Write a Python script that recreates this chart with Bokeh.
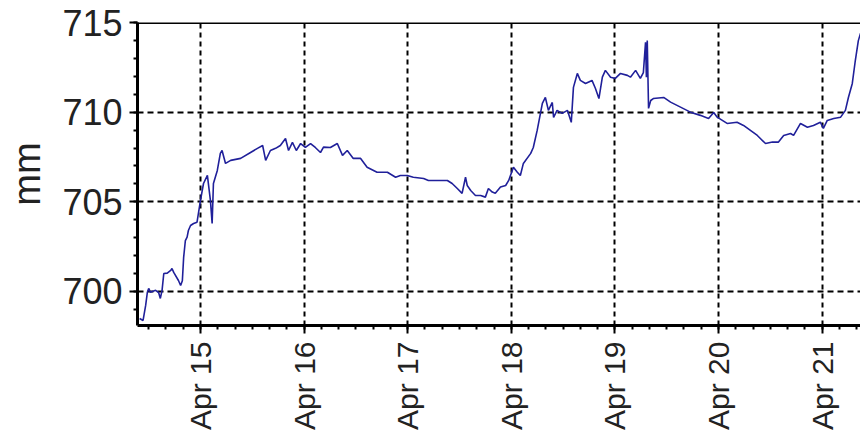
import datetime as dt
import math
import numpy as np
from bokeh.plotting import figure
from bokeh.models import FixedTicker, Span, Range1d
from bokeh.embed import file_html
from bokeh.resources import INLINE

# hours after Apr 14 00:00
hours = [9.9, 10.7, 11.3, 11.7, 12.0, 12.4, 13.6, 14.3, 14.7, 15.1, 15.5, 16.3, 17.1, 17.4,
         17.8, 18.9, 19.4, 19.8, 20.1, 20.5, 20.9, 21.2, 21.7, 22.4, 23.2, 24.0, 24.7, 25.6,
         26.3, 26.7, 27.0, 27.9, 28.6, 29.0, 29.8, 31.0, 33.3, 35.6, 37.2, 38.4, 39.1, 40.2,
         41.4, 42.5, 43.7, 44.4, 45.3, 46.2, 47.2, 48.3, 49.5, 50.6, 51.8, 52.5, 54.1, 55.7,
         56.9, 58.0, 59.4, 61.1, 62.6, 64.9, 67.3, 69.2, 70.3, 71.9, 73.3, 75.7, 76.8, 79.6,
         81.2, 82.3, 83.5, 84.6, 85.4, 85.8, 86.6, 87.7, 88.9, 90.0, 90.7, 91.6, 92.3, 93.5,
         94.7, 95.4, 96.5, 97.4, 98.1, 98.8, 100.5, 101.1, 102.0, 103.2, 103.9, 104.6, 105.5,
         105.8, 106.6, 107.8, 109.0, 109.9, 110.4, 111.3, 112.0, 113.2, 114.7, 115.5, 116.3,
         117.1, 117.8, 119.0, 120.1, 121.3, 122.9, 123.6, 124.8, 125.9, 126.6, 127.1, 127.3,
         127.5, 127.8, 128.3, 128.9, 131.3, 132.9, 135.2, 137.5, 139.8, 141.7, 142.9, 143.7,
         146.0, 148.3, 149.8, 151.4, 153.0, 154.9, 156.5, 157.9, 159.1, 160.7, 161.4, 163.0,
         164.6, 166.0, 167.6, 168.3, 169.2, 170.7, 172.3, 173.4, 174.1, 175.0, 175.7, 176.4,
         176.9, 177.8]
pressure_mm = [698.49, 698.38, 699.22, 699.96, 700.17, 699.96, 700.06, 699.94, 699.61, 700.06,
               701.0, 701.02, 701.17, 701.28, 701.06, 700.61, 700.33, 700.6, 701.9, 702.84,
               703.03, 703.4, 703.68, 703.79, 703.86, 705.08, 706.02, 706.47, 705.08, 703.79,
               706.02, 706.75, 707.7, 707.86, 707.14, 707.31, 707.42, 707.75, 707.98, 708.14,
               707.31, 707.86, 707.98, 708.14, 708.53, 707.86, 708.31, 707.86, 708.25, 708.03,
               708.25, 708.03, 707.75, 708.05, 708.03, 708.25, 707.59, 707.86, 707.42, 707.42,
               706.93, 706.65, 706.65, 706.37, 706.47, 706.47, 706.37, 706.3, 706.19, 706.19,
               706.19, 706.02, 705.74, 705.47, 706.37, 705.91, 705.63, 705.35, 705.35, 705.26,
               705.74, 705.54, 705.47, 705.82, 705.91, 706.19, 706.93, 706.65, 706.47, 707.14,
               707.7, 708.03, 708.98, 710.49, 710.82, 710.1, 710.54, 709.7, 710.1, 709.93,
               710.1, 709.43, 711.38, 712.16, 711.77, 711.6, 711.77, 711.32, 710.76, 711.95,
               712.33, 711.95, 711.88, 712.16, 712.05, 711.95, 712.33, 711.88, 712.21, 713.9,
               711.95, 714.0, 710.21, 710.65, 710.76, 710.82, 710.56, 710.28, 710.0, 709.82,
               709.65, 709.98, 709.72, 709.37, 709.44, 709.26, 708.98, 708.7, 708.25, 708.33,
               708.33, 708.7, 708.81, 708.7, 709.37, 709.16, 709.26, 709.44, 709.09, 709.54,
               709.65, 709.72, 710.1, 710.82, 711.6, 712.88, 713.99, 714.39, 714.8]

tick_days = [15, 16, 17, 18, 19, 20, 21, 22]
tick_labels = ["Apr 15", "Apr 16", "Apr 17", "Apr 18", "Apr 19", "Apr 20", "Apr 21", "Apr 22"]
y_ticks = [700, 705, 710, 715]
y_label = "mm"

base = dt.datetime(2024, 4, 14)
epoch = dt.datetime(1970, 1, 1)


def ms(t):
    return (t - epoch).total_seconds() * 1000.0


times = [base + dt.timedelta(hours=h) for h in hours]

x_start = base + dt.timedelta(hours=9.41)
x_end = base + dt.timedelta(hours=176.9)

FONT = "Liberation Sans"

p = figure(width=860, height=441, x_axis_type="datetime", output_backend="svg",
           toolbar_location=None, x_range=Range1d(x_start, x_end),
           y_range=Range1d(698.1, 715.0),
           min_border_left=137, min_border_right=0, min_border_top=22, min_border_bottom=116)
p.outline_line_color = None
p.background_fill_color = "white"
p.border_fill_color = "white"

p.line(times, pressure_mm, line_color="#20209a", line_width=1.6)

major_x = [ms(dt.datetime(2024, 4, d)) for d in tick_days]
minor_x = [ms(base + dt.timedelta(hours=float(h))) for h in np.arange(8, 24 * 9, 4)]
p.xaxis.ticker = FixedTicker(ticks=major_x, minor_ticks=minor_x)
p.xaxis.major_label_overrides = {m: lab for m, lab in zip(major_x, tick_labels)}
p.xaxis.major_label_orientation = math.pi / 2

p.yaxis.ticker = FixedTicker(ticks=y_ticks, minor_ticks=list(range(698, 716)))
p.yaxis.axis_label = y_label

for ax in (p.xaxis[0], p.yaxis[0]):
    ax.axis_line_width = 3
    ax.axis_line_color = "black"
    ax.major_tick_in = 0
    ax.major_tick_out = 8
    ax.minor_tick_in = 0
    ax.minor_tick_out = 4
    ax.major_tick_line_width = 2
    ax.minor_tick_line_width = 2
    ax.major_tick_line_color = "black"
    ax.minor_tick_line_color = "black"
    ax.major_label_text_font = FONT
    ax.major_label_text_color = "#222222"
    ax.axis_label_text_font = FONT
    ax.axis_label_text_font_style = "normal"
    ax.axis_label_text_color = "#222222"

p.xaxis.major_label_text_font_size = "30px"
p.xaxis.major_label_standoff = 8
p.yaxis.major_label_text_font_size = "36px"
p.yaxis.major_label_standoff = 7
p.yaxis.axis_label_text_font_size = "38px"
p.yaxis.axis_label_standoff = 11

p.xgrid.grid_line_color = "black"
p.xgrid.grid_line_width = 2
p.xgrid.grid_line_dash = "5 4"
p.ygrid.grid_line_color = "black"
p.ygrid.grid_line_width = 2
p.ygrid.grid_line_dash = "6 4"

p.add_layout(Span(location=715, dimension="width", line_color="black", line_width=3))

open("out.html", "w").write(file_html(p, INLINE))
